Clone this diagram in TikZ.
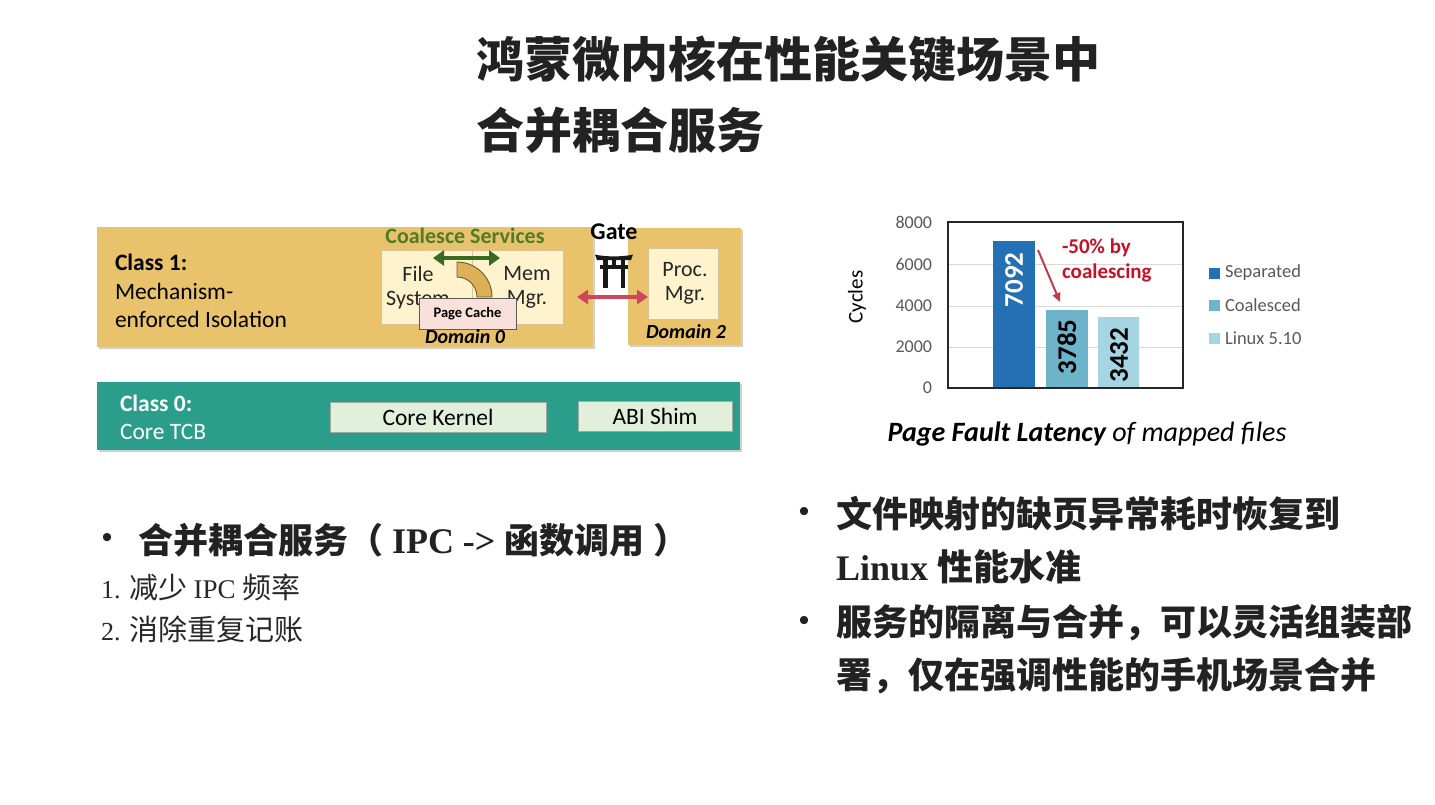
\documentclass[tikz,border=0pt]{standalone}
\usepackage{fontspec}
\setmainfont{Liberation Serif}
\newfontfamily\cjk{Noto Sans CJK SC}
\newfontfamily\carl{Carlito}
\newfontfamily\lsans{Liberation Sans}
\usetikzlibrary{arrows.meta,shadows}
\newcommand{\fsz}[1]{\fontsize{#1}{#1}\selectfont}
\definecolor{titlec}{RGB}{34,34,34}
\definecolor{bodyc}{RGB}{40,40,40}
\definecolor{classone}{RGB}{233,194,108}
\definecolor{classzero}{RGB}{42,158,138}
\definecolor{kernelfill}{RGB}{226,239,218}
\definecolor{kernelline}{RGB}{160,170,160}
\definecolor{creamfill}{RGB}{255,243,206}
\definecolor{creamline}{RGB}{215,195,150}
\definecolor{pagefill}{RGB}{249,224,219}
\definecolor{pageline}{RGB}{90,90,90}
\definecolor{bandfill}{RGB}{220,176,86}
\definecolor{bandline}{RGB}{110,90,40}
\definecolor{greenarrow}{RGB}{56,107,32}
\definecolor{greentext}{RGB}{78,124,40}
\definecolor{redarrow}{RGB}{205,70,92}
\definecolor{sepc}{RGB}{36,112,181}
\definecolor{coac}{RGB}{109,180,203}
\definecolor{linc}{RGB}{165,212,227}
\definecolor{axisgray}{RGB}{89,89,89}
\definecolor{gridgray}{RGB}{217,217,217}
\definecolor{annred}{RGB}{200,16,40}
\definecolor{annarrow}{RGB}{190,60,82}
\begin{document}
\begin{tikzpicture}[x=1pt,y=-1pt,
  every node/.style={inner sep=0pt,outer sep=0pt},
  shad/.style={drop shadow={shadow xshift=1.5pt,shadow yshift=-2pt,opacity=.3,fill=black!60}},
  classbox/.style={fill=classone,shad},
  cream/.style={fill=creamfill,draw=creamline,line width=0.8pt},
  kernelbox/.style={fill=kernelfill,draw=kernelline,line width=0.8pt},
  diag/.style={font=\carl\fontsize{23.5}{28}\selectfont,align=left},
  dlabel/.style={font=\carl\fontsize{22}{24}\selectfont,align=center,text=black!85},
  dom/.style={font=\carl\bfseries\itshape\fsz{20}},
  tick/.style={font=\carl\fsz{18},text=axisgray,anchor=east},
  leg/.style={font=\carl\fsz{18.5},text=axisgray,anchor=west},
  val/.style={font=\carl\bfseries\fsz{27},rotate=90},
  zhbig/.style={font=\cjk\bfseries\fsz{48},text=titlec,anchor=west},
  zhmid/.style={font=\cjk\bfseries\fsz{36},text=titlec,anchor=west},
  bul/.style={font=\lsans\fsz{30},text=titlec},
]
\useasboundingbox[fill=white] (0,0) rectangle (1435,804);

% ---------- title ----------
\node[zhbig] (t1) at (476,59) {鸿蒙微内核在性能关键场景中};
\node[zhbig] (t2) at (476,130) {合并耦合服务};

% ---------- left diagram ----------
\node[classbox,minimum width=496,minimum height=120] (class1) at (345,287) {};
\node[classbox,minimum width=113,minimum height=117] (dom2) at (684.5,286.5) {};
\node[classbox,fill=classzero,minimum width=643,minimum height=68] (class0) at (418.5,416) {};

\node[diag,anchor=west] (c1a) at (115,262) {\bfseries Class 1:};
\node[diag,anchor=west] (c1b) at (115,291) {Mechanism-};
\node[diag,anchor=west] (c1c) at (115,319) {enforced Isolation};

\node[diag,anchor=west,text=white] (c0a) at (120,403) {\bfseries Class 0:};
\node[diag,anchor=west,text=white] (c0b) at (120,432) {Core TCB};

\node[kernelbox,minimum width=216,minimum height=30,font=\carl\fsz{23.5}] (kern) at (438,417) {Core Kernel};
\node[kernelbox,minimum width=154,minimum height=30,font=\carl\fsz{23.5}] (abi) at (655,416) {ABI Shim};

\node[cream,minimum width=93,minimum height=74] (fs) at (427.5,287) {};
\node[cream,minimum width=91,minimum height=74] (mem) at (517.5,287) {};
\node[cream,minimum width=70,minimum height=71] (proc) at (683,283.5) {};

\node[dlabel] (fstext) at (418,288) {File\\System};
\node[dlabel] (memtext) at (527,287) {Mem\\Mgr.};
\node[dlabel] (proctext) at (685,283) {Proc.\\Mgr.};

% curved band joining the two services
\filldraw[fill=bandfill,draw=bandline,line width=0.9pt]
  (457,262) arc[start angle=-90,end angle=0,radius=35] -- (477,297)
  arc[start angle=0,end angle=-90,radius=20] -- cycle;

\node[draw=pageline,fill=pagefill,line width=0.8pt,minimum width=97,minimum height=31,
      font=\carl\bfseries\fsz{14.5}] (pc) at (467.5,313.5) {Page Cache};

\node[dom] (d0) at (465,337) {Domain 0};
\node[dom] (d2) at (686,332) {Domain 2};

\node[font=\carl\bfseries\fsz{22},text=greentext] (coal) at (465,236) {Coalesce Services};
\node[font=\carl\bfseries\fsz{24}] (gate) at (614,232) {Gate};

\coordinate (gL) at (433,258);
\coordinate (gR) at (500,258);
\draw[greenarrow,line width=4pt,{Triangle[length=11pt,width=15pt]}-{Triangle[length=11pt,width=15pt]}] (gL) -- (gR);

\coordinate (rL) at (577,297);
\draw[redarrow,line width=3.5pt,{Triangle[length=11pt,width=14pt]}-{Triangle[length=11pt,width=14pt]}] (rL) -- (rL -| proc.west);

% torii gate icon
\fill[black!90] (595,254.5) .. controls (605,257) and (623,257) .. (633,254.5) -- (631,260) -- (597,260) -- cycle;
\fill[black!90] (600,265) rectangle (628,269);
\fill[black!90] (612,260) rectangle (616,265);
\fill[black!90] (603,260) rectangle (607.5,288);
\fill[black!90] (620.5,260) rectangle (625,288);

% ---------- chart ----------
\draw[gridgray,line width=1pt] (948,264) -- (1183,264) (948,306) -- (1183,306) (948,347) -- (1183,347);
\fill[sepc] (993,240.8) rectangle (1035,388);
\fill[coac] (1046,309.5) rectangle (1088,388);
\fill[linc] (1098,316.8) rectangle (1139,388);
\draw[black!85,line width=1.3pt] (948,222) rectangle (1183,388);

\node[tick] (y8) at (932,222) {8000};
\node[tick] (y6) at (932,264) {6000};
\node[tick] (y4) at (932,306) {4000};
\node[tick] (y2) at (932,347) {2000};
\node[tick] (y0) at (932,388) {0};
\node[font=\carl\fsz{21},rotate=90] (cyc) at (857,297) {Cycles};

\node[val,text=white] (v1) at (1014,280) {7092};
\node[val] (v2) at (1067,347) {3785};
\node[val] (v3) at (1119,355) {3432};

\node[font=\carl\bfseries\fsz{21},text=annred,anchor=west] (a1) at (1062,248) {-50\% by};
\node[font=\carl\bfseries\fsz{21},text=annred,anchor=west] (a2) at (1062,273) {coalescing};
\coordinate (aS) at (1038,250);
\coordinate (aE) at (1060,302);
\draw[annarrow,line width=2pt,-{Triangle[length=9pt,width=8pt]}] (aS) -- (aE);

\fill[sepc] (1209,267.5) rectangle (1220,278.5);
\fill[coac] (1209,299.5) rectangle (1220,310.5);
\fill[linc] (1209,332.5) rectangle (1220,343.5);
\node[leg] (l1) at (1225,273) {Separated};
\node[leg] (l2) at (1225,305) {Coalesced};
\node[leg] (l3) at (1225,338) {Linux 5.10};

\node[font=\carl\fsz{28}] (cap) at (1087,434) {{\bfseries\itshape Page Fault Latency} {\itshape of mapped files}};

% ---------- left text ----------
\node[bul] (b0) at (107,540) {•};
\node[anchor=west,text=titlec] (lb) at (138,540)
  {{\cjk\bfseries\fsz{35}合并耦合服务（}{\bfseries\fsz{36} IPC -> }{\cjk\bfseries\fsz{35}函数调用}{\fsz{36} }{\cjk\bfseries\fsz{35}）}};
\node[anchor=west,text=bodyc] (i1) at (101,587)
  {{\fsz{26}1. }{\cjk\fsz{29}减少 }{\fsz{27}IPC }{\cjk\fsz{29}频率}};
\node[anchor=west,text=bodyc] (i2) at (101,629)
  {{\fsz{26}2. }{\cjk\fsz{29}消除重复记账}};

% ---------- right text ----------
\node[bul] (b1) at (804,514) {•};
\node[zhmid] (r1) at (836,514) {文件映射的缺页异常耗时恢复到};
\node[anchor=west,text=titlec] (r2) at (836,567) {{\bfseries\fsz{36}Linux }{\cjk\bfseries\fsz{36}性能水准}};
\node[bul] (b2) at (804,623) {•};
\node[zhmid] (r3) at (836,623) {服务的隔离与合并，可以灵活组装部};
\node[zhmid] (r4) at (836,676) {署，仅在强调性能的手机场景合并};
\end{tikzpicture}
\end{document}
